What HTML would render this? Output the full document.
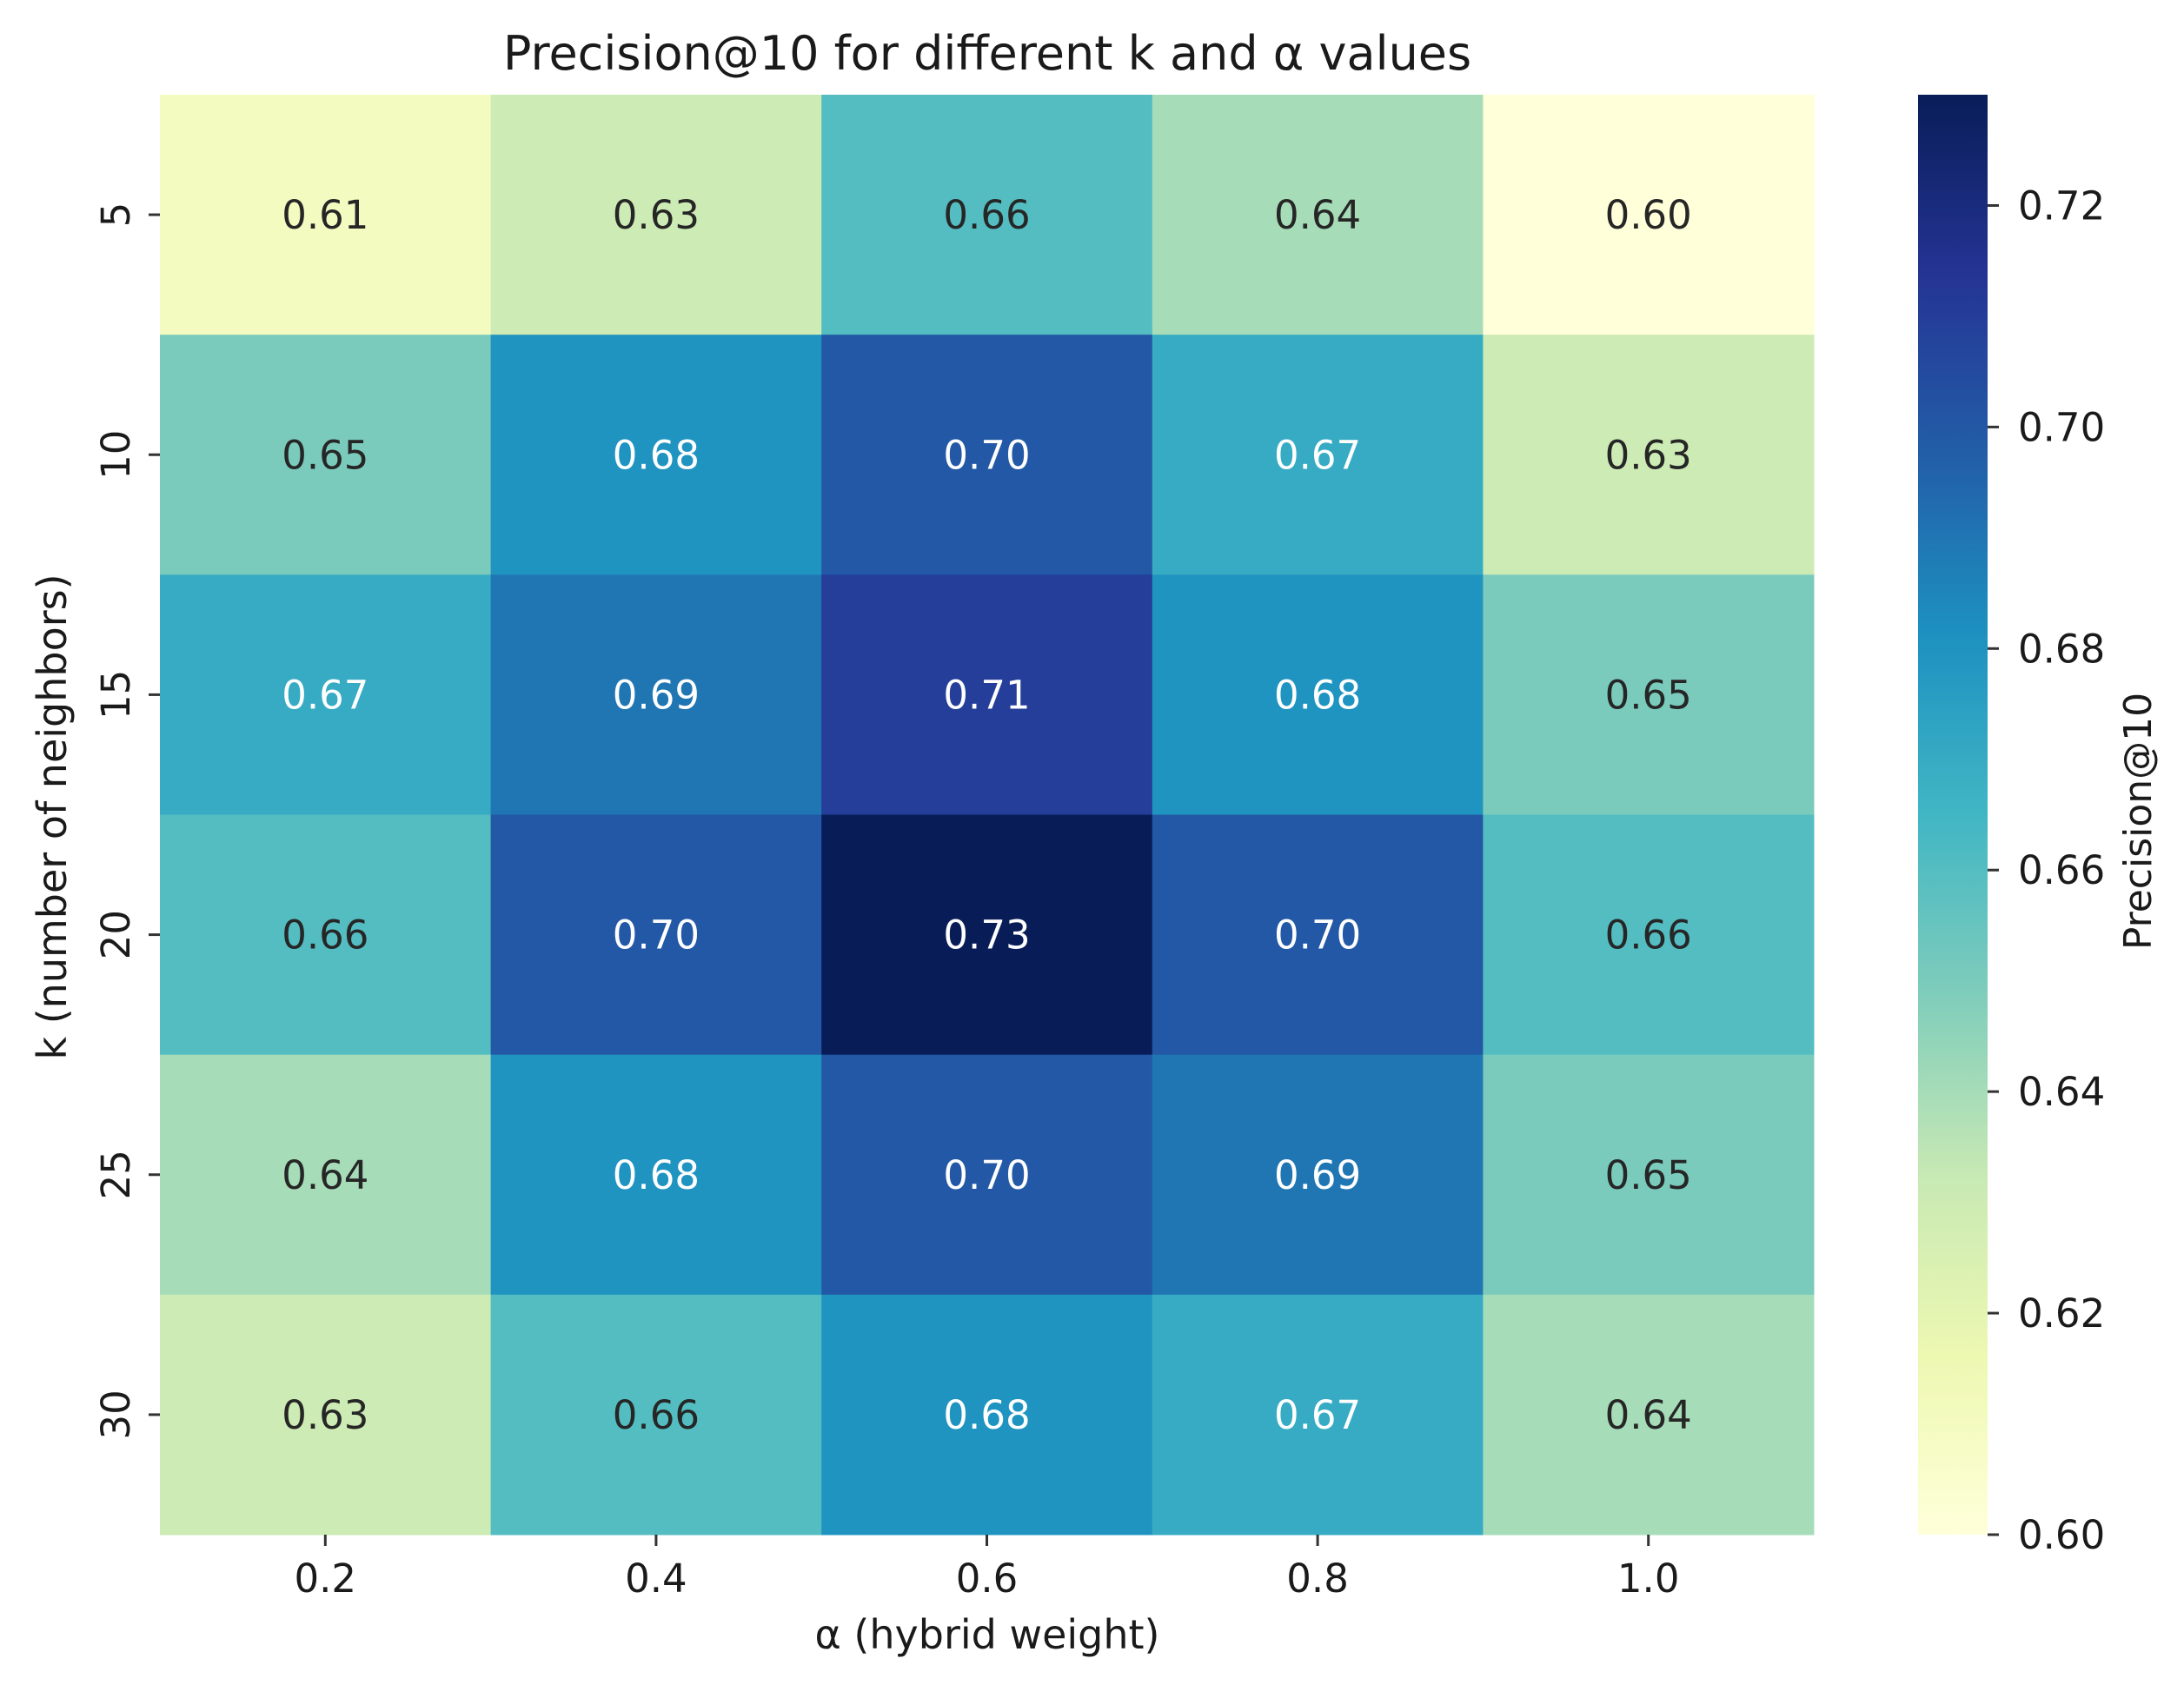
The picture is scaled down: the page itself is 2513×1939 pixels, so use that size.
<!DOCTYPE html>
<html><head><meta charset="utf-8">
<style>
html,body{margin:0;padding:0;background:#fff;}
svg{display:block;font-family:"DejaVu Sans","Liberation Sans",sans-serif;}
</style></head>
<body>
<svg id="chart" width="2513" height="1939" viewBox="0 0 2513 1939" xmlns="http://www.w3.org/2000/svg">
<defs><linearGradient id="cbgrad" x1="0" y1="1" x2="0" y2="0"></linearGradient></defs>
<text x="1136" y="80" font-size="54" text-anchor="middle" fill="#1a1a1a">Precision@10 for different k and α values</text>
<g id="cells"></g>
<g id="annots"></g>
<g id="xaxis"></g>
<g id="yaxis"></g>
<text x="1136" y="1897" font-size="46" text-anchor="middle" fill="#1a1a1a">α (hybrid weight)</text>
<text x="0" y="0" font-size="46" text-anchor="middle" fill="#1a1a1a" transform="translate(76,940) rotate(-90)">k (number of neighbors)</text>
<rect x="2207" y="109" width="80" height="1657" fill="url(#cbgrad)"/>
<g id="cbaxis"></g>
<text x="0" y="0" font-size="44" text-anchor="middle" fill="#1a1a1a" transform="translate(2475,945) rotate(-90)">Precision@10</text>
</svg>
<script>
const alphaLabels = ["0.2","0.4","0.6","0.8","1.0"];
const kLabels = ["5","10","15","20","25","30"];
const row5  = [0.61,0.63,0.66,0.64,0.60];
const row10 = [0.65,0.68,0.70,0.67,0.63];
const row15 = [0.67,0.69,0.71,0.68,0.65];
const row20 = [0.66,0.70,0.73,0.70,0.66];
const row25 = [0.64,0.68,0.70,0.69,0.65];
const row30 = [0.63,0.66,0.68,0.67,0.64];
const values = [row5,row10,row15,row20,row25,row30];
const cbTicks = [0.60,0.62,0.64,0.66,0.68,0.70,0.72];
const vmin = 0.60, vmax = 0.73;

const NS = "http://www.w3.org/2000/svg";
const L = 184, R = 2087, T = 109, B = 1766;
const cw = (R - L) / alphaLabels.length, ch = (B - T) / kLabels.length;
const xPos = i => L + i * cw;
const yPos = j => T + j * ch;
const stops = ["#ffffd9","#edf8b1","#c7e9b4","#7fcdbb","#41b6c4","#1d91c0","#225ea8","#253494","#081d58"];
function hex(h){return [1,3,5].map(i=>parseInt(h.substr(i,2),16));}
function cmapRGB(t){
  t = Math.max(0, Math.min(1, t));
  const p = t * (stops.length - 1), i = Math.min(Math.floor(p), stops.length - 2), f = p - i;
  const a = hex(stops[i]), b = hex(stops[i+1]);
  return a.map((v,k)=>Math.round(v + (b[k]-v)*f));
}
const norm = v => (v - vmin) / (vmax - vmin);
function lum(c){
  const l = c.map(v=>{v/=255;return v<=0.03928? v/12.92 : Math.pow((v+0.055)/1.055,2.4);});
  return 0.2126*l[0]+0.7152*l[1]+0.0722*l[2];
}
function mk(tag, attrs, parent){
  const e = document.createElementNS(NS, tag);
  for (const k in attrs) e.setAttribute(k, attrs[k]);
  parent.appendChild(e);
  return e;
}
const cells = document.getElementById('cells'), annots = document.getElementById('annots');
values.forEach((row, j) => row.forEach((v, i) => {
  const c = cmapRGB(norm(v));
  const r = mk('rect', {x: xPos(i), y: yPos(j), width: cw + 0.5, height: ch + 0.5, fill: `rgb(${c.join(',')})`}, cells);
  
  
  const t = mk('text', {x: xPos(i) + cw/2, y: yPos(j) + ch/2 + 16, 'font-size': 45, 'text-anchor': 'middle', fill: lum(c) < 0.408 ? '#ffffff' : '#262626'}, annots);
  t.textContent = v.toFixed(2);
  
  
}));
const xa = document.getElementById('xaxis');
alphaLabels.forEach((lab, i) => {
  const cx = xPos(i) + cw/2;
  const tk = mk('line', {x1: cx, x2: cx, y1: B, y2: B + 13, stroke: '#333', 'stroke-width': 3}, xa);
  
  
  const t = mk('text', {x: cx, y: 1832, 'font-size': 45, 'text-anchor': 'middle', fill: '#1a1a1a'}, xa);
  t.textContent = lab;
  
  
});
const ya = document.getElementById('yaxis');
kLabels.forEach((lab, j) => {
  const cy = yPos(j) + ch/2;
  const tk = mk('line', {x1: L - 13, x2: L, y1: cy, y2: cy, stroke: '#333', 'stroke-width': 3}, ya);
  
  
  const t = mk('text', {x: 0, y: 0, 'font-size': 45, 'text-anchor': 'middle', fill: '#1a1a1a', transform: `translate(149,${cy}) rotate(-90)`}, ya);
  t.textContent = lab;
  
  
});
const grad = document.getElementById('cbgrad');
for (let s = 0; s <= 40; s++) {
  const c = cmapRGB(s/40);
  mk('stop', {offset: (s/40*100) + '%', 'stop-color': `rgb(${c.join(',')})`}, grad);
}
const cba = document.getElementById('cbaxis');
const cbY = v => B - norm(v) * (B - T);
cbTicks.forEach(v => {
  const y = cbY(v);
  const tk = mk('line', {x1: 2287, x2: 2300, y1: y, y2: y, stroke: '#333', 'stroke-width': 3}, cba);
  
  
  const t = mk('text', {x: 2322, y: y + 16, 'font-size': 45, fill: '#1a1a1a'}, cba);
  t.textContent = v.toFixed(2);
  
  
});
</script>
</body></html>
